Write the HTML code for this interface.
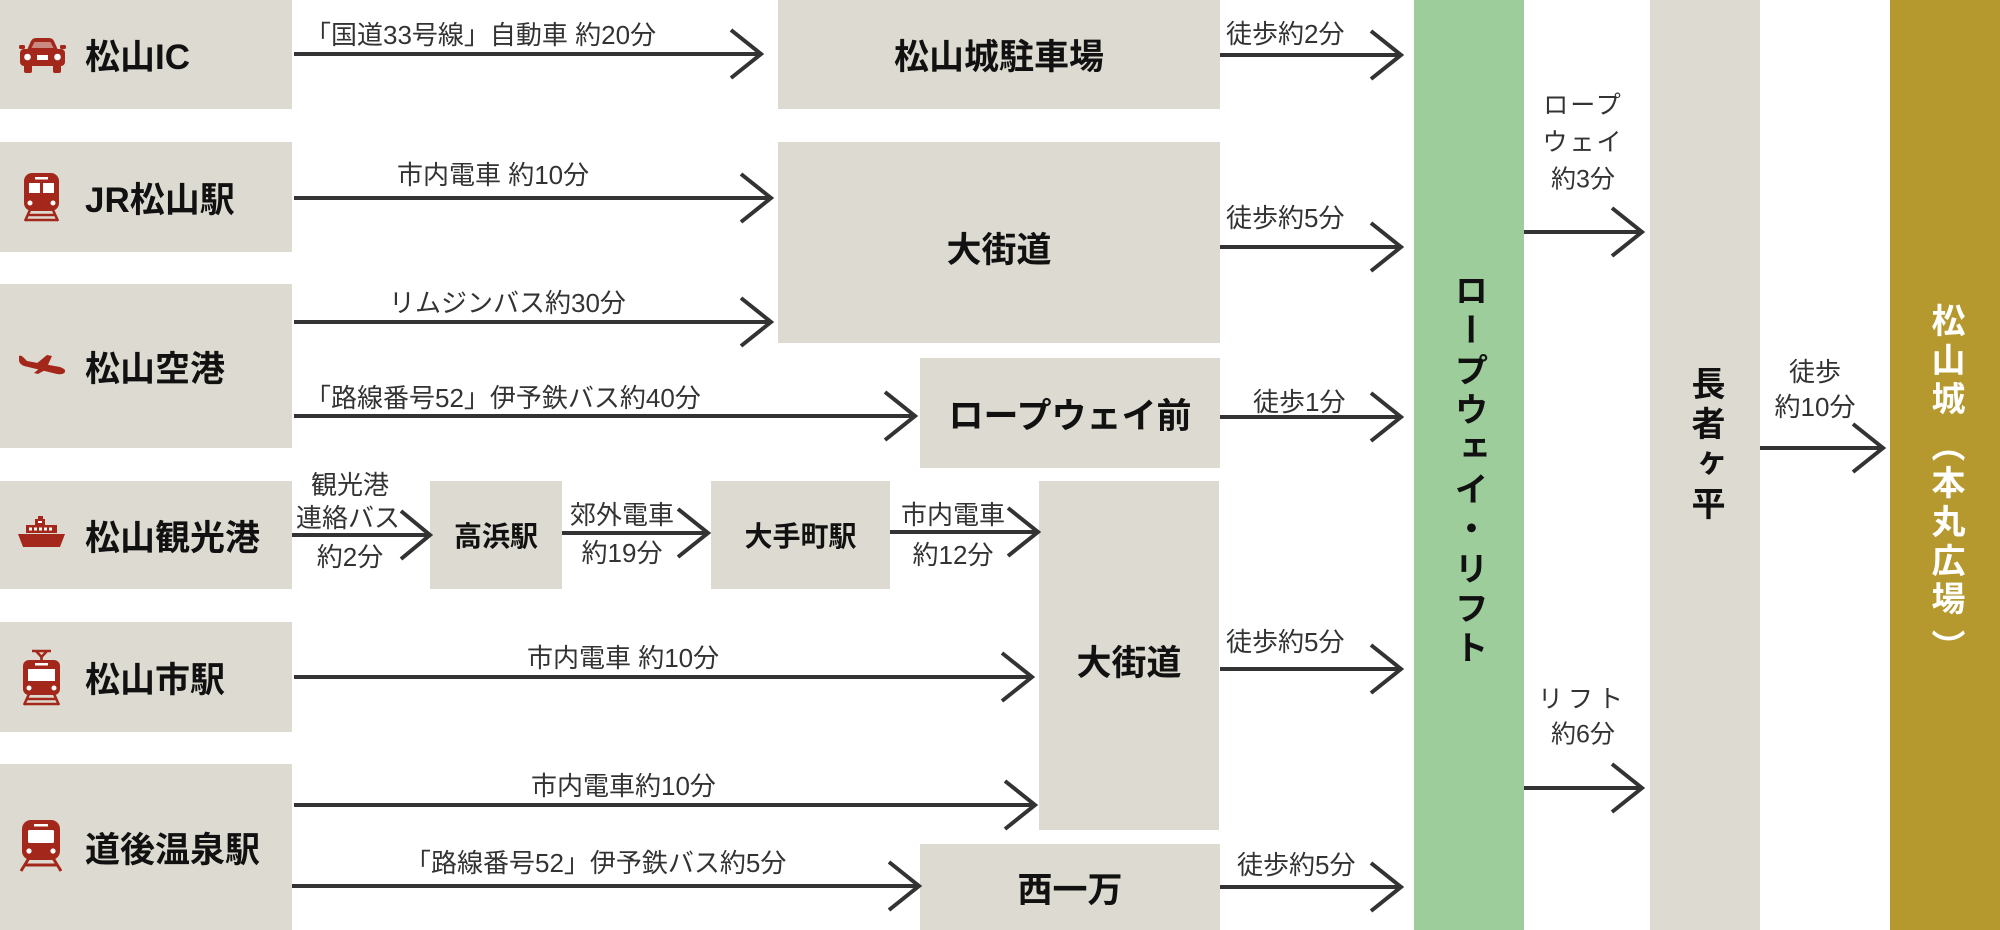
<!DOCTYPE html>
<html lang="ja">
<head>
<meta charset="utf-8">
<style>
  html,body{margin:0;padding:0;background:#fff;}
  body{width:2000px;height:930px;position:relative;overflow:hidden;
       font-family:"Liberation Sans","Noto Sans CJK JP",sans-serif;}
  .box{position:absolute;background:#dddbd1;}
  .ctr{display:flex;align-items:center;justify-content:center;font-weight:bold;color:#111;font-size:35px;}
  .src{position:absolute;left:85px;display:flex;align-items:center;font-weight:bold;color:#111;font-size:35px;white-space:nowrap;}
  .lbl{position:absolute;font-size:26px;line-height:1;color:#333;white-space:nowrap;}
  .c{transform:translate(-50%,-50%);text-align:center;}
  .l{transform:translateY(-50%);}
  .vt{position:absolute;writing-mode:vertical-rl;font-weight:bold;font-size:34px;line-height:34px;white-space:nowrap;}
  .g{position:absolute;left:1928px;writing-mode:vertical-rl;font-weight:bold;font-size:34px;line-height:34px;height:34px;color:#fff;}
  svg{position:absolute;left:0;top:0;}
</style>
</head>
<body>

<!-- left source boxes -->
<div class="box" style="left:0;top:0;width:292px;height:109px;"></div>
<div class="box" style="left:0;top:142px;width:292px;height:110px;"></div>
<div class="box" style="left:0;top:284px;width:292px;height:164px;"></div>
<div class="box" style="left:0;top:481px;width:292px;height:108px;"></div>
<div class="box" style="left:0;top:622px;width:292px;height:110px;"></div>
<div class="box" style="left:0;top:764px;width:292px;height:166px;"></div>

<div class="src" style="top:0;height:109px;">松山IC</div>
<div class="src" style="top:142px;height:110px;">JR松山駅</div>
<div class="src" style="top:284px;height:164px;">松山空港</div>
<div class="src" style="top:481px;height:108px;">松山観光港</div>
<div class="src" style="top:622px;height:110px;">松山市駅</div>
<div class="src" style="top:764px;height:166px;">道後温泉駅</div>

<!-- middle boxes -->
<div class="box ctr" style="left:778px;top:0;width:442px;height:109px;">松山城駐車場</div>
<div class="box ctr" style="left:778px;top:142px;width:442px;height:201px;padding-top:10px;box-sizing:border-box;">大街道</div>
<div class="box ctr" style="left:920px;top:358px;width:300px;height:110px;">ロープウェイ前</div>
<div class="box ctr" style="left:430px;top:481px;width:132px;height:108px;font-size:28px;">高浜駅</div>
<div class="box ctr" style="left:711px;top:481px;width:179px;height:108px;font-size:28px;">大手町駅</div>
<div class="box ctr" style="left:1039px;top:481px;width:180px;height:349px;padding-top:10px;box-sizing:border-box;">大街道</div>
<div class="box ctr" style="left:920px;top:844px;width:300px;height:86px;">西一万</div>

<!-- right columns -->
<div style="position:absolute;left:1414px;top:0;width:110px;height:930px;background:#9ccd9a;"></div>
<div class="box" style="left:1650px;top:0;width:110px;height:930px;"></div>
<div style="position:absolute;left:1890px;top:0;width:110px;height:930px;background:#b5992f;"></div>

<div class="vt" style="left:1451px;top:273px;letter-spacing:5.7px;color:#111;">ロープウェイ・リフト</div>
<div class="vt" style="left:1688px;top:366px;letter-spacing:6px;color:#111;">長者ヶ平</div>

<div class="g" style="top:303px;">松</div>
<div class="g" style="top:342px;">山</div>
<div class="g" style="top:381px;">城</div>
<div class="g" style="top:428px;">（</div>
<div class="g" style="top:465px;">本</div>
<div class="g" style="top:504px;">丸</div>
<div class="g" style="top:543px;">広</div>
<div class="g" style="top:581px;">場</div>
<div class="g" style="top:629px;">）</div>

<svg width="2000" height="930" viewBox="0 0 2000 930">
  <g stroke="#333" stroke-width="4" fill="none" stroke-linejoin="miter">
    <line x1="294" y1="54" x2="759" y2="54"/><polyline points="731,30 761,54 731,78"/>
    <line x1="294" y1="198" x2="769" y2="198"/><polyline points="741,174 771,198 741,222"/>
    <line x1="294" y1="322" x2="769" y2="322"/><polyline points="741,298 771,322 741,346"/>
    <line x1="294" y1="416" x2="913" y2="416"/><polyline points="885,392 915,416 885,440"/>
    <line x1="292" y1="535" x2="428" y2="535"/><polyline points="401,511 430,535 401,559"/>
    <line x1="562" y1="533" x2="706" y2="533"/><polyline points="678,509 708,533 678,557"/>
    <line x1="890" y1="532" x2="1036" y2="532"/><polyline points="1008,508 1038,532 1008,556"/>
    <line x1="294" y1="677" x2="1030" y2="677"/><polyline points="1002,653 1032,677 1002,701"/>
    <line x1="294" y1="805" x2="1033" y2="805"/><polyline points="1005,781 1035,805 1005,829"/>
    <line x1="292" y1="886" x2="917" y2="886"/><polyline points="889,862 919,886 889,910"/>
    <line x1="1220" y1="55" x2="1399" y2="55"/><polyline points="1371,31 1401,55 1371,79"/>
    <line x1="1220" y1="247" x2="1399" y2="247"/><polyline points="1371,223 1401,247 1371,271"/>
    <line x1="1220" y1="417" x2="1399" y2="417"/><polyline points="1371,393 1401,417 1371,441"/>
    <line x1="1220" y1="669" x2="1399" y2="669"/><polyline points="1371,645 1401,669 1371,693"/>
    <line x1="1220" y1="887" x2="1399" y2="887"/><polyline points="1371,863 1401,887 1371,911"/>
    <line x1="1524" y1="232" x2="1640" y2="232"/><polyline points="1612,208 1642,232 1612,256"/>
    <line x1="1524" y1="788" x2="1640" y2="788"/><polyline points="1612,764 1642,788 1612,812"/>
    <line x1="1760" y1="448" x2="1881" y2="448"/><polyline points="1853,424 1883,448 1853,472"/>
  </g>

  <!-- car -->
  <g fill="#a3281b">
    <path d="M27 50 L31 41 Q32.5 38 36 38 L49 38 Q52.5 38 54 41 L58 50 Z"/>
    <rect x="19" y="45" width="6" height="4" rx="1.5"/>
    <rect x="60" y="45" width="6" height="4" rx="1.5"/>
    <rect x="20" y="49" width="45" height="17" rx="4"/>
    <rect x="24" y="63" width="8" height="10" rx="2"/>
    <rect x="53" y="63" width="8" height="10" rx="2"/>
  </g>
  <path d="M31.5 48 L34.5 42 L50.5 42 L53.5 48 Z" fill="#c98a80"/>
  <circle cx="27.5" cy="57" r="3.3" fill="#fff"/>
  <circle cx="57.5" cy="57" r="3.3" fill="#fff"/>
  <rect x="37" y="55" width="11" height="5" fill="#fff"/>

  <!-- JR train -->
  <rect x="24" y="173" width="35" height="38" rx="8" fill="#a3281b"/>
  <rect x="35" y="177" width="13" height="2.5" fill="#fff"/>
  <rect x="29" y="183" width="11" height="10" fill="#fff"/>
  <rect x="43" y="183" width="11" height="10" fill="#fff"/>
  <circle cx="30" cy="203" r="2.5" fill="#fff"/>
  <circle cx="53" cy="203" r="2.5" fill="#fff"/>
  <g stroke="#a3281b" stroke-width="2.6" fill="none">
    <line x1="30" y1="210" x2="25" y2="221"/><line x1="53" y1="210" x2="58" y2="221"/>
    <line x1="28" y1="215" x2="55" y2="215"/><line x1="25" y1="220" x2="58" y2="220"/>
  </g>

  <!-- plane -->
  <g fill="#a3281b">
    <path d="M19 356 Q21 355 23 357 L27 361 L60 367 Q66 369 65 372 Q63 375 57 374 L24 366 Q19 364 19 360 Z"/>
    <path d="M36 364 L47 355 L52 356 L47 367 Z"/>
    <path d="M40 368 L34 373 L38 374 L47 369 Z"/>
  </g>

  <!-- ship -->
  <g fill="#a3281b">
    <path d="M18 534 L65 534 L60 547 L23 547 Z"/>
    <rect x="26" y="525" width="31" height="8"/>
    <rect x="35" y="519" width="10" height="6"/>
    <rect x="38" y="516" width="5" height="3"/>
  </g>
  <g fill="#fff">
    <rect x="29" y="527.5" width="3" height="3"/><rect x="34" y="527.5" width="3" height="3"/>
    <rect x="39" y="527.5" width="3" height="3"/><rect x="44" y="527.5" width="3" height="3"/>
    <rect x="49" y="527.5" width="3" height="3"/>
    <rect x="38" y="521" width="4" height="2"/>
  </g>

  <!-- tram (松山市駅) -->
  <g stroke="#a3281b" stroke-width="2.6" fill="none">
    <line x1="32" y1="651" x2="51" y2="651"/>
    <polyline points="36,651 41.5,657 47,651"/>
    <line x1="41.5" y1="657" x2="41.5" y2="661"/>
    <line x1="29" y1="694" x2="24" y2="705"/><line x1="54" y1="694" x2="59" y2="705"/>
    <line x1="27" y1="699" x2="56" y2="699"/><line x1="24" y1="704" x2="59" y2="704"/>
  </g>
  <rect x="23" y="660" width="37" height="35" rx="6" fill="#a3281b"/>
  <rect x="35" y="663" width="13" height="2.5" fill="#fff"/>
  <rect x="28" y="669" width="27" height="12" fill="#fff"/>
  <circle cx="29" cy="688" r="2.5" fill="#fff"/>
  <circle cx="54" cy="688" r="2.5" fill="#fff"/>

  <!-- 道後 train -->
  <rect x="22" y="820" width="38" height="40" rx="9" fill="#a3281b"/>
  <rect x="34" y="824" width="14" height="2.5" fill="#fff"/>
  <rect x="28" y="830" width="26" height="13" rx="1.5" fill="#fff"/>
  <circle cx="29" cy="851" r="2.6" fill="#fff"/>
  <circle cx="53" cy="851" r="2.6" fill="#fff"/>
  <g stroke="#a3281b" stroke-width="3" fill="none">
    <line x1="29" y1="858" x2="21" y2="871"/><line x1="53" y1="858" x2="61" y2="871"/>
    <line x1="25" y1="865" x2="57" y2="865"/>
  </g>
</svg>

<!-- connector labels -->
<div class="lbl l" style="left:305px;top:35px;">「国道33号線」自動車 約20分</div>
<div class="lbl l" style="left:397px;top:175px;">市内電車 約10分</div>
<div class="lbl l" style="left:389px;top:303px;">リムジンバス約30分</div>
<div class="lbl l" style="left:305px;top:398px;">「路線番号52」伊予鉄バス約40分</div>
<div class="lbl c" style="left:350px;top:485px;">観光港</div>
<div class="lbl c" style="left:348px;top:518px;">連絡バス</div>
<div class="lbl c" style="left:350px;top:557px;">約2分</div>
<div class="lbl c" style="left:622px;top:515px;">郊外電車</div>
<div class="lbl c" style="left:622px;top:553px;">約19分</div>
<div class="lbl c" style="left:953px;top:515px;">市内電車</div>
<div class="lbl c" style="left:953px;top:555px;">約12分</div>
<div class="lbl l" style="left:527px;top:658px;">市内電車 約10分</div>
<div class="lbl l" style="left:531px;top:786px;">市内電車約10分</div>
<div class="lbl l" style="left:405px;top:863px;">「路線番号52」伊予鉄バス約5分</div>

<div class="lbl l" style="left:1226px;top:34px;">徒歩約2分</div>
<div class="lbl l" style="left:1226px;top:218px;">徒歩約5分</div>
<div class="lbl l" style="left:1253px;top:402px;">徒歩1分</div>
<div class="lbl l" style="left:1226px;top:642px;">徒歩約5分</div>
<div class="lbl l" style="left:1237px;top:865px;">徒歩約5分</div>

<div class="lbl c" style="left:1583px;top:106px;font-size:25px;letter-spacing:2px;">ロープ</div>
<div class="lbl c" style="left:1583px;top:143px;font-size:25px;letter-spacing:2px;">ウェイ</div>
<div class="lbl c" style="left:1583px;top:180px;font-size:25px;">約3分</div>
<div class="lbl c" style="left:1583px;top:700px;font-size:25px;letter-spacing:5px;">リフト</div>
<div class="lbl c" style="left:1583px;top:735px;font-size:25px;">約6分</div>
<div class="lbl c" style="left:1815px;top:372px;">徒歩</div>
<div class="lbl c" style="left:1815px;top:407px;">約10分</div>

</body>
</html>
